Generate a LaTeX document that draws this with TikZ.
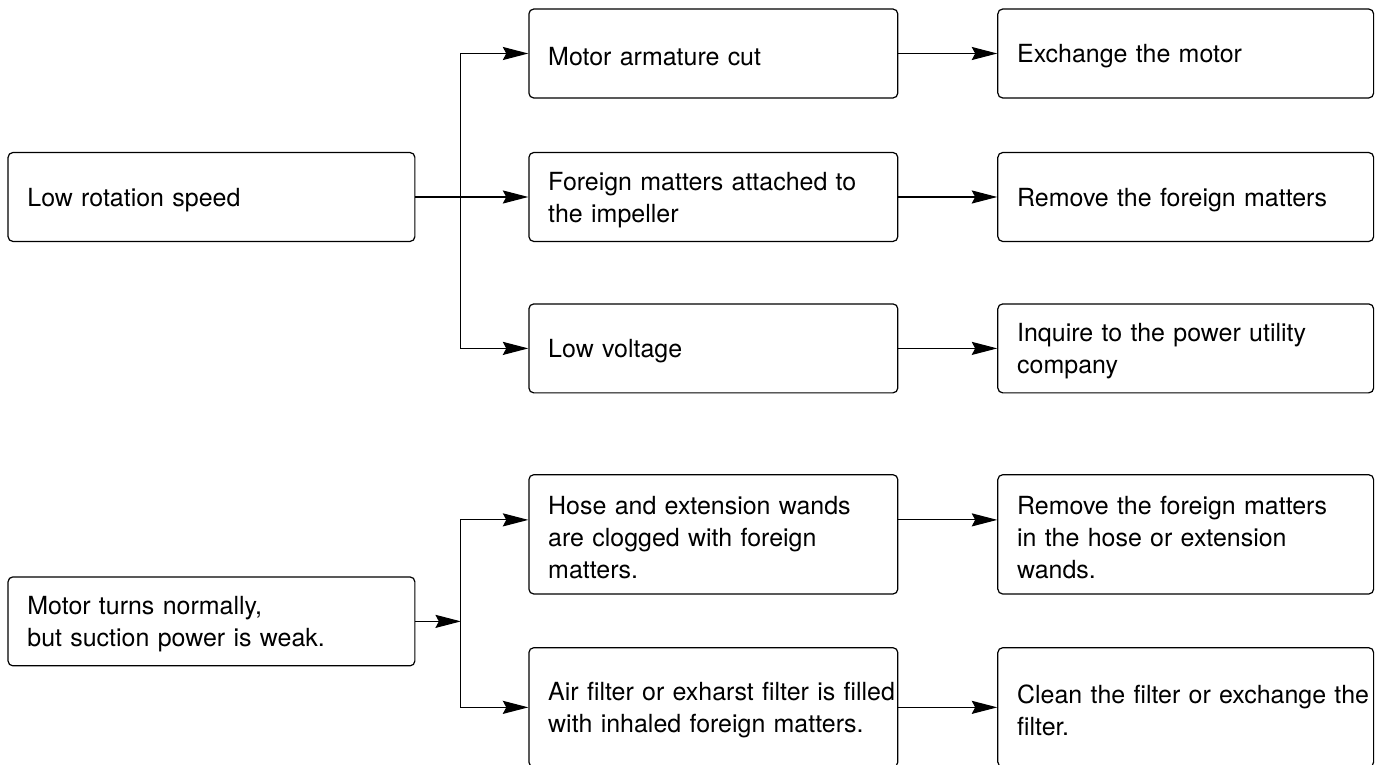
\documentclass[tikz,border=0pt]{standalone}
\usepackage{fontspec}
\setmainfont{TeX Gyre Heros}
\usetikzlibrary{arrows.meta}

\begin{document}
\begin{tikzpicture}[
    box/.style={draw, rounded corners=2pt, line width=0.5pt, align=left,
        inner xsep=0.28cm, inner ysep=0pt, minimum height=1.29cm,
        font=\fontsize{10.3pt}{13.2pt}\selectfont,
        execute at begin node={\rule{0pt}{10pt}}},
    cause/.style={box, text width=4.79cm},
    remedy/.style={box, text width=4.89cm},
    tall/.style={minimum height=1.73cm},
    arr/.style={-{Stealth[length=0.37cm,width=0.19cm,inset=0.05cm]}, line width=0.45pt}
]
    \useasboundingbox (0,0) rectangle (20,-11.09);
    %Low rotation speed
    \node[box, text width=5.34cm] (low) at (3.067,-2.857) {Low rotation speed};
    \node[cause] (arm) at (10.346,-0.776) {Motor armature cut};
    \node[cause] (fm) at (10.346,-2.857) {Foreign matters attached to\\the impeller};
    \node[cause] (volt) at (10.346,-5.053) {Low voltage};
    \node[remedy] (exm) at (17.197,-0.776) {Exchange the motor};
    \node[remedy] (rfm) at (17.197,-2.857) {Remove the foreign matters};
    \node[remedy] (inq) at (17.197,-5.053) {Inquire to the power utility\\company};
    \coordinate (fork1) at (6.685,-2.857);
    \draw[arr] (low.east) -- (fm.west);
    \draw[arr] (fork1) |- (arm.west);
    \draw[arr] (fork1) |- (volt.west);
    \draw[arr] (arm) -- (exm);
    \draw[arr] (fm) -- (rfm);
    \draw[arr] (volt) -- (inq);
    %Weak suction
    \node[box, text width=5.34cm] (weak) at (3.067,-9.012) {Motor turns normally,\\but suction power is weak.};
    \node[cause, tall] (hose) at (10.346,-7.750) {Hose and extension wands\\are clogged with foreign\\matters.};
    \node[cause, tall] (filt) at (10.346,-10.259) {\mbox{Air filter or exharst filter is filled}\\with inhaled foreign matters.};
    \node[remedy, tall] (rhose) at (17.197,-7.750) {Remove the foreign matters\\in the hose or extension\\wands.};
    \node[remedy, tall] (clean) at (17.197,-10.259) {\mbox{Clean the filter or exchange the}\\filter.};
    \coordinate (fork2) at (6.685,-9.012);
    \draw[arr] (weak.east) -- (fork2);
    \draw[arr] (fork2) |- ([yshift=0.21cm]hose.west);
    \draw[arr] (fork2) |- (filt.west);
    \draw[arr] ([yshift=0.21cm]hose.east) -- ([yshift=0.21cm]rhose.west);
    \draw[arr] (filt) -- (clean);
\end{tikzpicture}
\end{document}
